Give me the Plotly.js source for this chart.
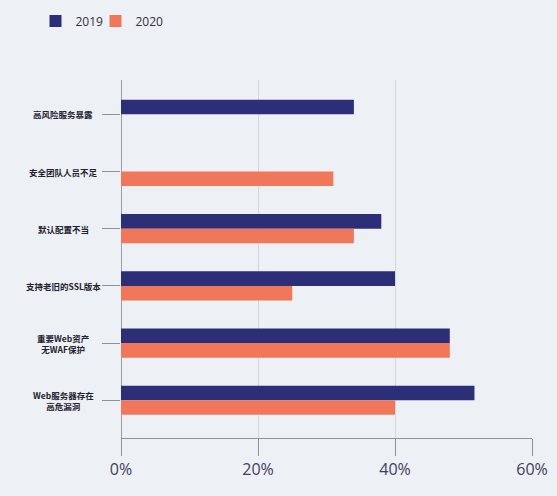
<!DOCTYPE html>
<html>
<head>
<meta charset="utf-8">
<script src="https://cdn.plot.ly/plotly-3.0.1.min.js"></script>
<style>html,body{margin:0;padding:0;background:#edf0f4;}#chart{width:557px;height:496px;}</style>
</head>
<body>
<div id="chart"></div>
<script>
var categories = ["高风险服务暴露", "安全团队人员不足", "默认配置不当", "支持老旧的SSL版本", "重要Web资产<br>无WAF保护", "Web服务器存在<br>高危漏洞"];
var values2019 = [34, null, 38, 40, 48, 51.6];
var values2020 = [null, 31, 34, 25, 48, 40];
var seriesNames = ["2019", "2020"];
var tickValues = [0, 20, 40, 60];
var tickLabels = ["0%", "20%", "40%", "60%"];

var traces = [
  {type: "bar", orientation: "h", name: seriesNames[0], y: categories, x: values2019,
   marker: {color: "#2c2e78", line: {width: 0}}, hoverinfo: "none", legend: "legend"},
  {type: "bar", orientation: "h", name: seriesNames[1], y: categories, x: values2020,
   marker: {color: "#f0775a", line: {width: 0}}, hoverinfo: "none", legend: "legend2"}
];

var annotations = categories.map(function (c) {
  return {xref: "paper", yref: "y", x: -0.14, y: c, text: c, showarrow: false,
    xanchor: "center", yanchor: "middle", align: "center",
    font: {family: "Noto Sans CJK SC", size: 8.5, color: "#1f2230", weight: 700}};
});

function legendAt(px) {
  return {orientation: "h", xref: "container", yref: "container",
    x: px / 557, xanchor: "left", y: 1 - 21 / 496, yanchor: "middle",
    font: {family: "Open Sans", size: 12, color: "#2e3140"},
    bgcolor: "rgba(0,0,0,0)"};
}

var layout = {
  width: 557, height: 496,
  paper_bgcolor: "#edf0f4", plot_bgcolor: "#edf0f4",
  margin: {l: 121, r: 25, t: 80, b: 58, pad: 0},
  barmode: "group", bargap: 0.49, bargroupgap: 0,
  showlegend: true,
  legend: legendAt(35.5),
  legend2: legendAt(95.5),
  xaxis: {range: [0, 60], tickvals: tickValues, ticktext: tickLabels,
    showgrid: true, gridcolor: "#d3d6dd", gridwidth: 1,
    zeroline: true, zerolinecolor: "#9a9ea8", zerolinewidth: 1,
    showline: true, linecolor: "#8e929c", linewidth: 1,
    ticks: "outside", ticklen: 17, tickcolor: "#8e929c", tickwidth: 1,
    tickfont: {family: "Open Sans", size: 16, color: "#3b4060"}, fixedrange: true},
  yaxis: {type: "category", categoryorder: "array", categoryarray: categories,
    range: [5.66, -0.6], showgrid: false, zeroline: false, showline: false,
    ticks: "outside", ticklen: 18, tickcolor: "#8e929c", tickwidth: 1,
    showticklabels: false, fixedrange: true},
  annotations: annotations
};

Plotly.newPlot("chart", traces, layout, {displayModeBar: false, staticPlot: true});
</script>
</body>
</html>
